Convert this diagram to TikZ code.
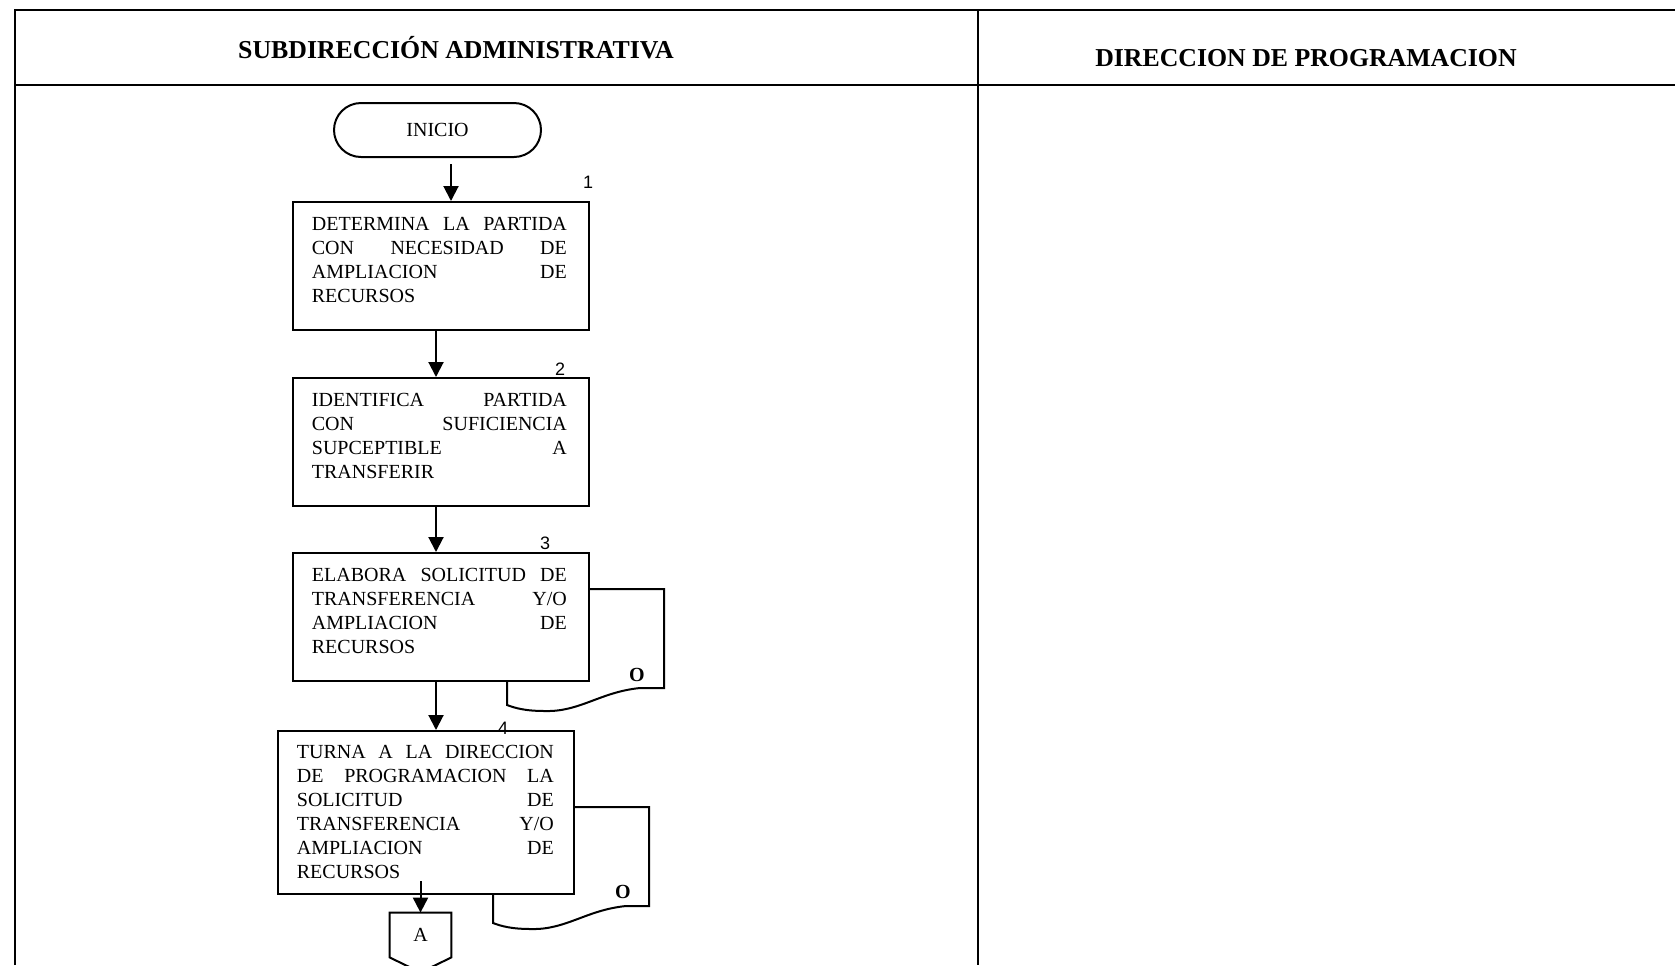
\documentclass[tikz,border=0pt]{standalone}
\usepackage{fontspec}
\setmainfont{Liberation Serif}
\newfontfamily\numfont{Liberation Sans}
\usetikzlibrary{arrows.meta,calc}

\begin{document}
\begin{tikzpicture}[x=0.5pt,y=-0.5pt,
  frame/.style={line width=1.1pt},
  procbox/.style={draw, line width=1pt, fill=white, inner sep=0pt,
                  minimum width=148pt},
  boxtext/.style={inner sep=0pt, align=left, anchor=north west,
                  font=\fontsize{10pt}{12pt}\selectfont},
  stepnum/.style={font=\numfont\fontsize{9pt}{10pt}\selectfont, inner sep=0pt},
  arr/.style={line width=1pt, -{Triangle[length=7.5pt,width=7.5pt]}},
  docshape/.style={draw, line width=1pt, fill=white},
  docmark/.style={font=\bfseries\fontsize{10pt}{12pt}\selectfont, inner sep=0pt},
  hdr/.style={font=\bfseries\fontsize{12.9pt}{14pt}\selectfont, inner sep=0pt},
  termbox/.style={draw, line width=1pt, rounded corners=13.5pt, fill=white,
                  minimum width=103.5pt, minimum height=27pt, inner sep=0pt,
                  font=\fontsize{10pt}{12pt}\selectfont}]

\clip (0,0) rectangle (1675,965);
\fill[white] (0,0) rectangle (1675,965);

% swimlane frame
\draw[frame] (15,965) -- (15,10) -- (1675,10);
\draw[frame] (15,85) -- (1675,85);
\draw[frame] (978,10) -- (978,965);

\node[hdr] (lane1) at (456,48) {SUBDIRECCIÓN ADMINISTRATIVA};
\node[hdr] (lane2) at (1306,58) {DIRECCION DE PROGRAMACION};

% document symbols behind steps 3 and 4
\draw[docshape] (507,589) -- (664,589) -- (664,688) -- (640,688)
  .. controls (600,692) and (580,712) .. (545,711)
  .. controls (525,711) and (515,708) .. (507,705) -- cycle;
\draw[docshape] (493,807) -- (649,807) -- (649,906) -- (626,906)
  .. controls (586,910) and (566,930) .. (531,929)
  .. controls (511,929) and (501,926) .. (493,923) -- cycle;
\node[docmark] (d3) at (637,675) {O};
\node[docmark] (d4) at (623,892) {O};

% start
\node[termbox] (ini) at (437.5,130) {INICIO};

% process steps
\node[procbox, minimum height=64pt] (b1) at (440.5,266) {};
\node[procbox, minimum height=64pt] (b2) at (440.5,442) {};
\node[procbox, minimum height=64pt] (b3) at (440.5,617) {};
\node[procbox, minimum height=81.5pt] (b4) at (425.5,812.5) {};

\node[boxtext] (t1) at ($(b1.north west)+(20,16)$)
  {\makebox[127.5pt][s]{DETERMINA LA PARTIDA}\\
   \makebox[127.5pt][s]{CON NECESIDAD DE}\\
   \makebox[127.5pt][s]{AMPLIACION DE}\\
   RECURSOS};
\node[boxtext] (t2) at ($(b2.north west)+(20,16)$)
  {\makebox[127.5pt][s]{IDENTIFICA PARTIDA}\\
   \makebox[127.5pt][s]{CON SUFICIENCIA}\\
   \makebox[127.5pt][s]{SUPCEPTIBLE A}\\
   TRANSFERIR};
\node[boxtext] (t3) at ($(b3.north west)+(20,16)$)
  {\makebox[127.5pt][s]{ELABORA SOLICITUD DE}\\
   \makebox[127.5pt][s]{TRANSFERENCIA Y/O}\\
   \makebox[127.5pt][s]{AMPLIACION DE}\\
   RECURSOS};
\node[boxtext] (t4) at ($(b4.north west)+(20,15)$)
  {\makebox[128.5pt][s]{TURNA A LA DIRECCION}\\
   \makebox[128.5pt][s]{DE PROGRAMACION LA}\\
   \makebox[128.5pt][s]{SOLICITUD DE}\\
   \makebox[128.5pt][s]{TRANSFERENCIA Y/O}\\
   \makebox[128.5pt][s]{AMPLIACION DE}\\
   RECURSOS};

% off-page connector
\node[inner sep=0pt, minimum width=30.5pt, minimum height=22pt,
      font=\fontsize{10pt}{12pt}\selectfont] (conA) at (420.5,935) {A};
\draw[line width=1pt] (conA.north west) -- (conA.north east) -- (conA.south east)
  -- ($(conA.south)+(0,15)$) -- (conA.south west) -- cycle;

% flow
\draw[arr] ($(ini.south)+(13.5,6)$) -- ($(b1.north)+(10.5,0)$);
\draw[arr] ($(b1.south)+(-4.5,0)$) -- ($(b2.north)+(-4.5,0)$);
\draw[arr] ($(b2.south)+(-4.5,0)$) -- ($(b3.north)+(-4.5,0)$);
\draw[arr] ($(b3.south)+(-4.5,0)$) -- ($(b4.north)+(10.5,0)$);
\draw[arr] ($(b4.south -| conA.north)+(0,-14)$) -- (conA.north);

% step numbers
\node[stepnum] (n1) at (588,182) {1};
\node[stepnum] (n2) at (560,369) {2};
\node[stepnum] (n3) at (545,543) {3};
\node[stepnum] (n4) at (503,728) {4};
\end{tikzpicture}
\end{document}
